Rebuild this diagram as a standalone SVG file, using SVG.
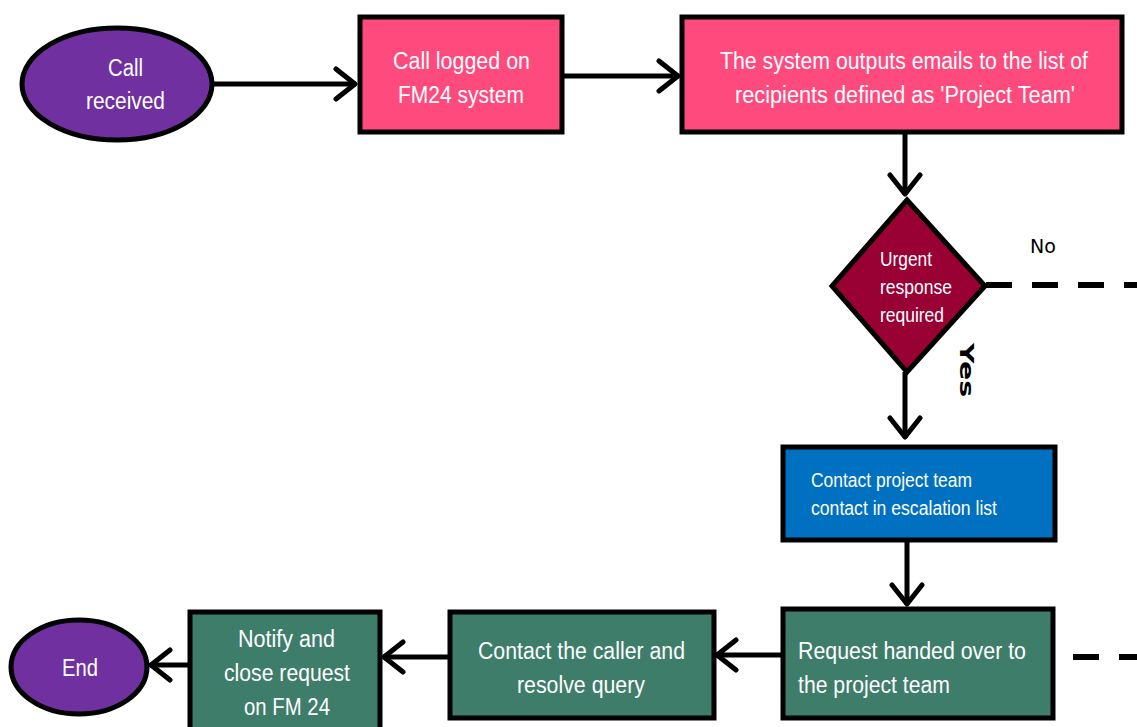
<svg xmlns="http://www.w3.org/2000/svg" width="1137" height="727" viewBox="0 0 1137 727">
<style>
.n{stroke:#000;stroke-width:5}
.pink{fill:#FF4A7D}
.purple{fill:#7030A0}
.red{fill:#990033}
.blue{fill:#0070C0}
.green{fill:#3D7D6A}
.t{font-family:"Liberation Sans",Arial,sans-serif;fill:#fff;font-size:23px}
.s{font-size:20px}
.c{stroke:#000;stroke-width:5;fill:none}
.d{stroke:#000;stroke-width:6;fill:none;stroke-dasharray:26,20}
.lbl{font-family:"DejaVu Sans",sans-serif;fill:#000;font-size:19px}
</style>
<defs>
<marker id="ah" viewBox="0 0 26 36" refX="23" refY="18" markerWidth="26" markerHeight="36" markerUnits="userSpaceOnUse" orient="auto">
<polyline points="3,3 22,18 3,33" fill="none" stroke="#000" stroke-width="5" stroke-linecap="round" stroke-linejoin="round"/>
</marker>
</defs>
<g id="connectors">
<line class="c" x1="212" y1="84" x2="356" y2="84" marker-end="url(#ah)"/>
<line class="c" x1="562" y1="76" x2="679" y2="76" marker-end="url(#ah)"/>
<line class="c" x1="905" y1="132" x2="905" y2="195" marker-end="url(#ah)"/>
<line class="d" x1="986" y1="285" x2="1137" y2="285"/>
<line class="c" x1="905" y1="372" x2="905" y2="438" marker-end="url(#ah)"/>
<line class="c" x1="907" y1="540" x2="907" y2="605" marker-end="url(#ah)"/>
<line class="d" x1="1073" y1="657" x2="1137" y2="657"/>
<line class="c" x1="783" y1="655" x2="716" y2="655" marker-end="url(#ah)"/>
<line class="c" x1="450" y1="657" x2="383" y2="657" marker-end="url(#ah)"/>
<line class="c" x1="190" y1="665" x2="150" y2="665" marker-end="url(#ah)"/>
<text class="lbl" x="1030" y="253">No</text>
<text class="lbl" transform="translate(960,343) rotate(90)" font-weight="bold" font-size="20" textLength="54" lengthAdjust="spacingAndGlyphs">Yes</text>
</g>
<g id="start">
<ellipse class="n purple" cx="117" cy="84" rx="95" ry="56"/>
<text class="t" x="108" y="76" textLength="35" lengthAdjust="spacingAndGlyphs">Call</text>
<text class="t" x="86" y="109" textLength="79" lengthAdjust="spacingAndGlyphs">received</text>
</g>
<g id="logged">
<rect class="n pink" x="360" y="17" width="202" height="115"/>
<text class="t" x="393" y="69" textLength="137" lengthAdjust="spacingAndGlyphs">Call logged on</text>
<text class="t" x="398" y="103" textLength="126" lengthAdjust="spacingAndGlyphs">FM24 system</text>
</g>
<g id="emails">
<rect class="n pink" x="682" y="17" width="440" height="115"/>
<text class="t" x="720" y="69" textLength="368" lengthAdjust="spacingAndGlyphs">The system outputs emails to the list of</text>
<text class="t" x="735" y="103" textLength="340" lengthAdjust="spacingAndGlyphs">recipients defined as 'Project Team'</text>
</g>
<g id="decision">
<polygon class="n red" points="907,200 985,286 907,372 832,286"/>
<text class="t s" x="880" y="266" textLength="52" lengthAdjust="spacingAndGlyphs">Urgent</text>
<text class="t s" x="880" y="294" textLength="72" lengthAdjust="spacingAndGlyphs">response</text>
<text class="t s" x="880" y="322" textLength="64" lengthAdjust="spacingAndGlyphs">required</text>
</g>
<g id="contact-team">
<rect class="n blue" x="783" y="447" width="272" height="93"/>
<text class="t s" x="811" y="487" textLength="161" lengthAdjust="spacingAndGlyphs">Contact project team</text>
<text class="t s" x="811" y="515" textLength="186" lengthAdjust="spacingAndGlyphs">contact in escalation list</text>
</g>
<g id="handover">
<rect class="n green" x="783" y="609" width="270" height="109"/>
<text class="t" x="798" y="659" textLength="228" lengthAdjust="spacingAndGlyphs">Request handed over to</text>
<text class="t" x="798" y="693" textLength="152" lengthAdjust="spacingAndGlyphs">the project team</text>
</g>
<g id="resolve">
<rect class="n green" x="450" y="612" width="264" height="106"/>
<text class="t" x="478" y="659" textLength="207" lengthAdjust="spacingAndGlyphs">Contact the caller and</text>
<text class="t" x="517" y="693" textLength="128" lengthAdjust="spacingAndGlyphs">resolve query</text>
</g>
<g id="notify">
<rect class="n green" x="190" y="612" width="190" height="120"/>
<text class="t" x="238" y="647" textLength="97" lengthAdjust="spacingAndGlyphs">Notify and</text>
<text class="t" x="224" y="681" textLength="126" lengthAdjust="spacingAndGlyphs">close request</text>
<text class="t" x="244" y="715" textLength="86" lengthAdjust="spacingAndGlyphs">on FM 24</text>
</g>
<g id="end">
<ellipse class="n purple" cx="79" cy="667" rx="68" ry="47"/>
<text class="t" x="62" y="676" textLength="36" lengthAdjust="spacingAndGlyphs">End</text>
</g>
</svg>
